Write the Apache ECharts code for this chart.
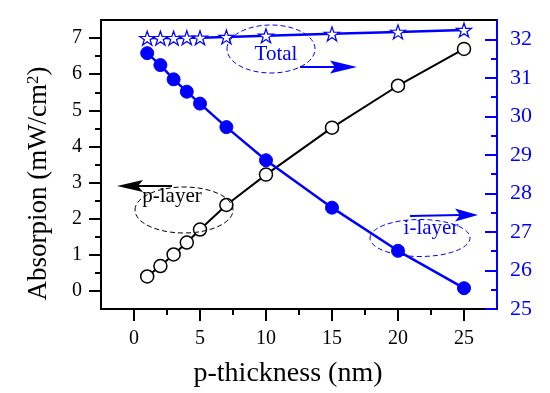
<!DOCTYPE html>
<html>
<head>
<meta charset="utf-8">
<script src="https://cdn.jsdelivr.net/npm/echarts@6/dist/echarts.min.js"></script>
<style>
  html, body { margin: 0; padding: 0; background: #fff; }
  #chart { width: 550px; height: 393px; }
</style>
</head>
<body>
<div id="chart"></div>
<script>
// p-layer thickness (nm)
const thickness = [1, 2, 3, 4, 5, 7, 10, 15, 20, 25]
// absorption in p-layer (left axis, mW/cm2)
const pLayer = [0.40, 0.69, 1.01, 1.34, 1.70, 2.38, 3.22, 4.52, 5.68, 6.70]
// absorption in i-layer (right axis)
const iLayer = [31.64, 31.33, 30.96, 30.64, 30.33, 29.72, 28.86, 27.63, 26.51, 25.54]
// total absorption (right axis)
const total = [32.03, 32.03, 32.03, 32.04, 32.04, 32.06, 32.09, 32.14, 32.19, 32.24]

const xTicks = [0, 5, 10, 15, 20, 25]
const xMinor = [2.5, 7.5, 12.5, 17.5, 22.5]
const leftTicks = [0, 1, 2, 3, 4, 5, 6, 7]
const leftMinor = [0.5, 1.5, 2.5, 3.5, 4.5, 5.5, 6.5]
const rightTicks = [25, 26, 27, 28, 29, 30, 31, 32]
const rightMinor = [25.5, 26.5, 27.5, 28.5, 29.5, 30.5, 31.5]

const font = 'Liberation Serif'
const blue = '#0000ff'
const star = 'path://M100,0 L122.45,69.1 L195.1,69.1 L136.3,111.8 L158.8,180.9 L100,138.2 L41.2,180.9 L63.7,111.8 L4.9,69.1 L77.55,69.1 Z'

const pair = (xs, ys) => xs.map((x, i) => [x, ys[i]])

const chart = echarts.init(document.getElementById('chart'))

chart.setOption({
  animation: false,
  grid: {
    left: 101,
    right: 53,
    top: 20,
    bottom: 84,
    show: true,
    borderColor: '#000',
    borderWidth: 2
  },
  xAxis: [
    {
      type: 'value',
      min: -2.5,
      max: 27.5,
      position: 'bottom',
      axisLine: { onZero: false, lineStyle: { color: '#000', width: 2 } },
      axisTick: { customValues: xTicks, length: 12, lineStyle: { width: 2 } },
      axisLabel: { customValues: xTicks, color: '#000', fontFamily: font, fontSize: 20, margin: 20 },
      splitLine: { show: false },
      name: 'p-thickness (nm)',
      nameLocation: 'middle',
      nameGap: 51,
      nameTextStyle: { color: '#000', fontFamily: font, fontSize: 28, padding: [0, 22, 0, 0] }
    },
    {
      type: 'value',
      min: -2.5,
      max: 27.5,
      position: 'bottom',
      axisLine: { show: false, onZero: false },
      axisTick: { customValues: xMinor, length: 6, lineStyle: { color: '#000', width: 2 } },
      axisLabel: { show: false },
      splitLine: { show: false }
    }
  ],
  yAxis: [
    {
      type: 'value',
      min: -0.5,
      max: 7.5,
      position: 'left',
      axisLine: { show: true, onZero: false, lineStyle: { color: '#000', width: 2 } },
      axisTick: { show: true, customValues: leftTicks, length: 12, lineStyle: { width: 2 } },
      axisLabel: { customValues: leftTicks, color: '#000', fontFamily: font, fontSize: 20, margin: 19 },
      splitLine: { show: false },
      name: 'Absorpion (mW/cm{sup|2})',
      nameLocation: 'middle',
      nameGap: 49,
      nameTextStyle: {
        color: '#000',
        fontFamily: font,
        fontSize: 27,
        padding: [0, 38, 0, 0],
        rich: {
          sup: { fontFamily: font, fontSize: 17, verticalAlign: 'top', color: '#000' }
        }
      }
    },
    {
      type: 'value',
      min: -0.5,
      max: 7.5,
      position: 'left',
      axisLine: { show: false, onZero: false },
      axisTick: { show: true, customValues: leftMinor, length: 6, lineStyle: { color: '#000', width: 2 } },
      axisLabel: { show: false },
      splitLine: { show: false }
    },
    {
      type: 'value',
      min: 25,
      max: 32.5,
      position: 'right',
      axisLine: { show: true, onZero: false, lineStyle: { color: blue, width: 2 } },
      axisTick: { show: true, inside: true, customValues: rightTicks, length: 12, lineStyle: { width: 2 } },
      axisLabel: { customValues: rightTicks, color: blue, fontFamily: font, fontSize: 22, margin: 13 },
      splitLine: { show: false }
    },
    {
      type: 'value',
      min: 25,
      max: 32.5,
      position: 'right',
      axisLine: { show: false, onZero: false },
      axisTick: { show: true, inside: true, customValues: rightMinor, length: 6, lineStyle: { color: blue, width: 2 } },
      axisLabel: { show: false },
      splitLine: { show: false }
    }
  ],
  series: [
    {
      name: 'p-layer',
      type: 'line',
      yAxisIndex: 0,
      data: pair(thickness, pLayer),
      symbol: 'circle',
      symbolSize: 13,
      lineStyle: { color: '#000', width: 2 },
      itemStyle: { color: '#fff', borderColor: '#000', borderWidth: 1.5 }
    },
    {
      name: 'i-layer',
      type: 'line',
      yAxisIndex: 2,
      data: pair(thickness, iLayer),
      symbol: 'circle',
      symbolSize: 13,
      lineStyle: { color: blue, width: 2.5 },
      itemStyle: { color: blue, borderColor: blue, borderWidth: 1 }
    },
    {
      name: 'Total',
      type: 'line',
      yAxisIndex: 2,
      data: pair(thickness, total),
      symbol: star,
      symbolSize: [15, 14],
      lineStyle: { color: blue, width: 2.5 },
      itemStyle: { color: '#fff', borderColor: blue, borderWidth: 1.2 },
      z: 3
    }
  ],
  graphic: [
    // Total label
    { type: 'ellipse', shape: { cx: 271, cy: 49, rx: 44, ry: 24 }, style: { fill: null, stroke: blue, lineWidth: 1, lineDash: [5, 3] }, z: 10 },
    { type: 'text', x: 276, y: 54, style: { text: 'Total', fill: blue, font: '21px "Liberation Serif"', align: 'center', verticalAlign: 'middle' }, z: 10 },
    { type: 'line', shape: { x1: 300, y1: 67, x2: 340, y2: 67 }, style: { stroke: blue, lineWidth: 2 }, z: 10 },
    { type: 'polygon', shape: { points: [[357, 67], [330, 60.5], [335, 67], [330, 73.5]] }, style: { fill: blue }, z: 10 },
    // p-layer label
    { type: 'ellipse', shape: { cx: 184, cy: 210, rx: 49, ry: 23 }, style: { fill: null, stroke: '#000', lineWidth: 1, lineDash: [5, 3] }, z: 10 },
    { type: 'text', x: 172, y: 196, style: { text: 'p-layer', fill: '#000', font: '21px "Liberation Serif"', align: 'center', verticalAlign: 'middle' }, z: 10 },
    { type: 'line', shape: { x1: 138, y1: 186, x2: 172, y2: 186 }, style: { stroke: '#000', lineWidth: 2 }, z: 10 },
    { type: 'polygon', shape: { points: [[117, 186], [143, 180], [138, 186], [143, 192]] }, style: { fill: '#000' }, z: 10 },
    // i-layer label
    { type: 'ellipse', shape: { cx: 420, cy: 238, rx: 50, ry: 18.5 }, style: { fill: null, stroke: blue, lineWidth: 1, lineDash: [5, 3] }, z: 10 },
    { type: 'text', x: 431, y: 228, style: { text: 'i-layer', fill: blue, font: '21px "Liberation Serif"', align: 'center', verticalAlign: 'middle' }, z: 10 },
    { type: 'line', shape: { x1: 410, y1: 216, x2: 460, y2: 215 }, style: { stroke: blue, lineWidth: 2 }, z: 10 },
    { type: 'polygon', shape: { points: [[478, 215], [455, 208.5], [460, 215], [455, 221.5]] }, style: { fill: blue }, z: 10 }
  ]
})
</script>
</body>
</html>
